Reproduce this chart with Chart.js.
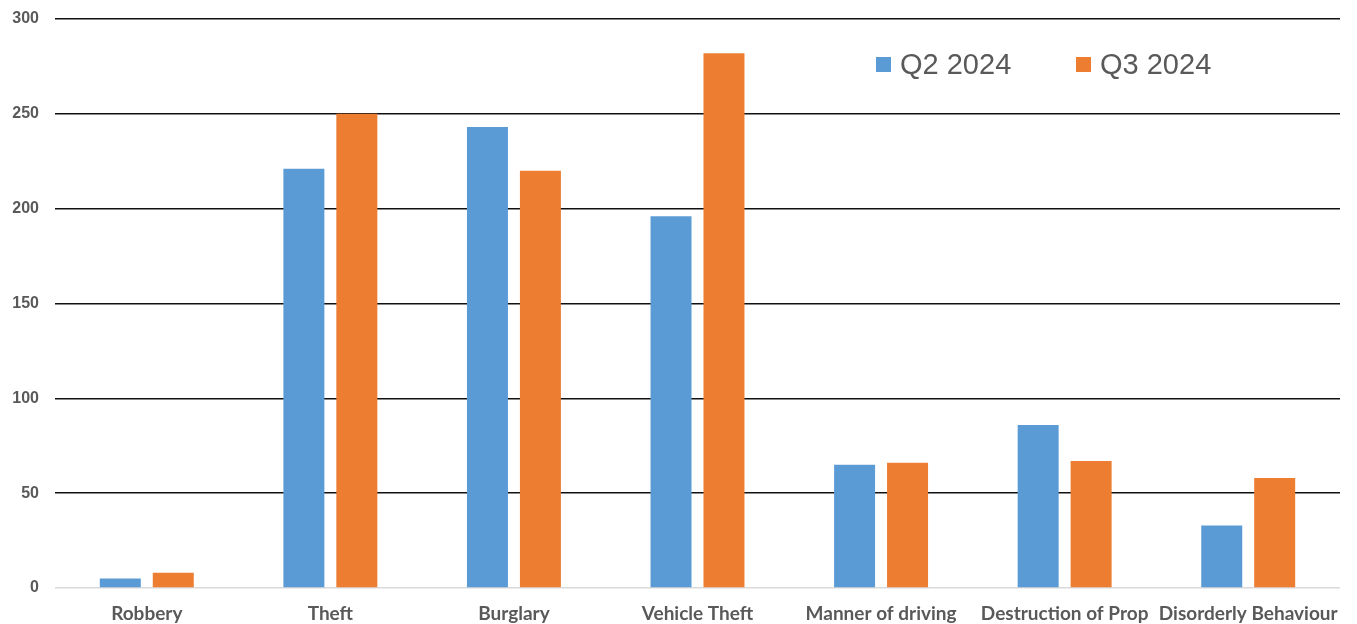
<!DOCTYPE html>
<html>
<head>
<meta charset="utf-8">
<script src="https://cdn.jsdelivr.net/npm/chart.js@4"></script>
<style>
    html, body { margin: 0; padding: 0; background: #fff; }
    #wrap { position: relative; width: 1357px; height: 624px; }
    .legend { position: absolute; top: 48px; font-family: "Liberation Sans", Arial, sans-serif; font-size: 29px; color: #595959; display: flex; align-items: center; }
    .legend span.box { display: inline-block; width: 15px; height: 15px; margin-right: 9px; }
</style>
</head>
<body>
<div id="wrap">
    <canvas id="crime-chart" width="1357" height="624"></canvas>
    <div class="legend" style="left: 876px;"><span class="box" style="background:#5b9bd5"></span>Q2 2024</div>
    <div class="legend" style="left: 1076px;"><span class="box" style="background:#ed7d31"></span>Q3 2024</div>
</div>
<script>
// Crime counts by category
const categories = ['Robbery', 'Theft', 'Burglary', 'Vehicle Theft', 'Manner of driving', 'Destruction of Prop', 'Disorderly Behaviour'];
const q2Values = [5, 221, 243, 196, 65, 86, 33];
const q3Values = [8, 250, 220, 282, 66, 67, 58];
const yTicks = [0, 50, 100, 150, 200, 250, 300];

const ctx = document.getElementById('crime-chart');
const chart = new Chart(ctx, {
    type: 'bar',
    data: {
        labels: categories,
        datasets: [
            {
                label: 'Q2 2024',
                data: q2Values,
                backgroundColor: '#5b9bd5',
                barPercentage: 0.774,
                categoryPercentage: 0.577
            },
            {
                label: 'Q3 2024',
                data: q3Values,
                backgroundColor: '#ed7d31',
                barPercentage: 0.774,
                categoryPercentage: 0.577
            }
        ]
    },
    options: {
        responsive: false,
        animation: false,
        layout: {
            padding: { top: 0, right: 17, left: 0, bottom: 0 }
        },
        scales: {
            x: {
                afterFit: s => { s.height = 36; },
                grid: { display: false },
                border: { display: false },
                ticks: {
                    color: '#595959',
                    font: { family: 'Lato', weight: 'bold', size: 19 },
                    padding: 6,
                    maxRotation: 0,
                    autoSkip: false
                }
            },
            y: {
                min: 0,
                max: 300,
                afterFit: s => { s.width = 55; s.paddingTop = 19; s.paddingBottom = 0; },
                afterBuildTicks: axis => { axis.ticks = yTicks.map(v => ({ value: v })); },
                border: { display: false },
                grid: {
                    drawTicks: false,
                    lineWidth: 1.6,
                    color: c => c.index === 0 ? '#d9d9d9' : '#111'
                },
                ticks: {
                    color: '#595959',
                    font: { family: 'Liberation Sans', weight: 'bold', size: 16 },
                    padding: 16
                }
            }
        },
        plugins: {
            legend: { display: false },
            tooltip: { enabled: false }
        }
    }
});
document.fonts.ready.then(() => chart.update());
</script>
</body>
</html>
